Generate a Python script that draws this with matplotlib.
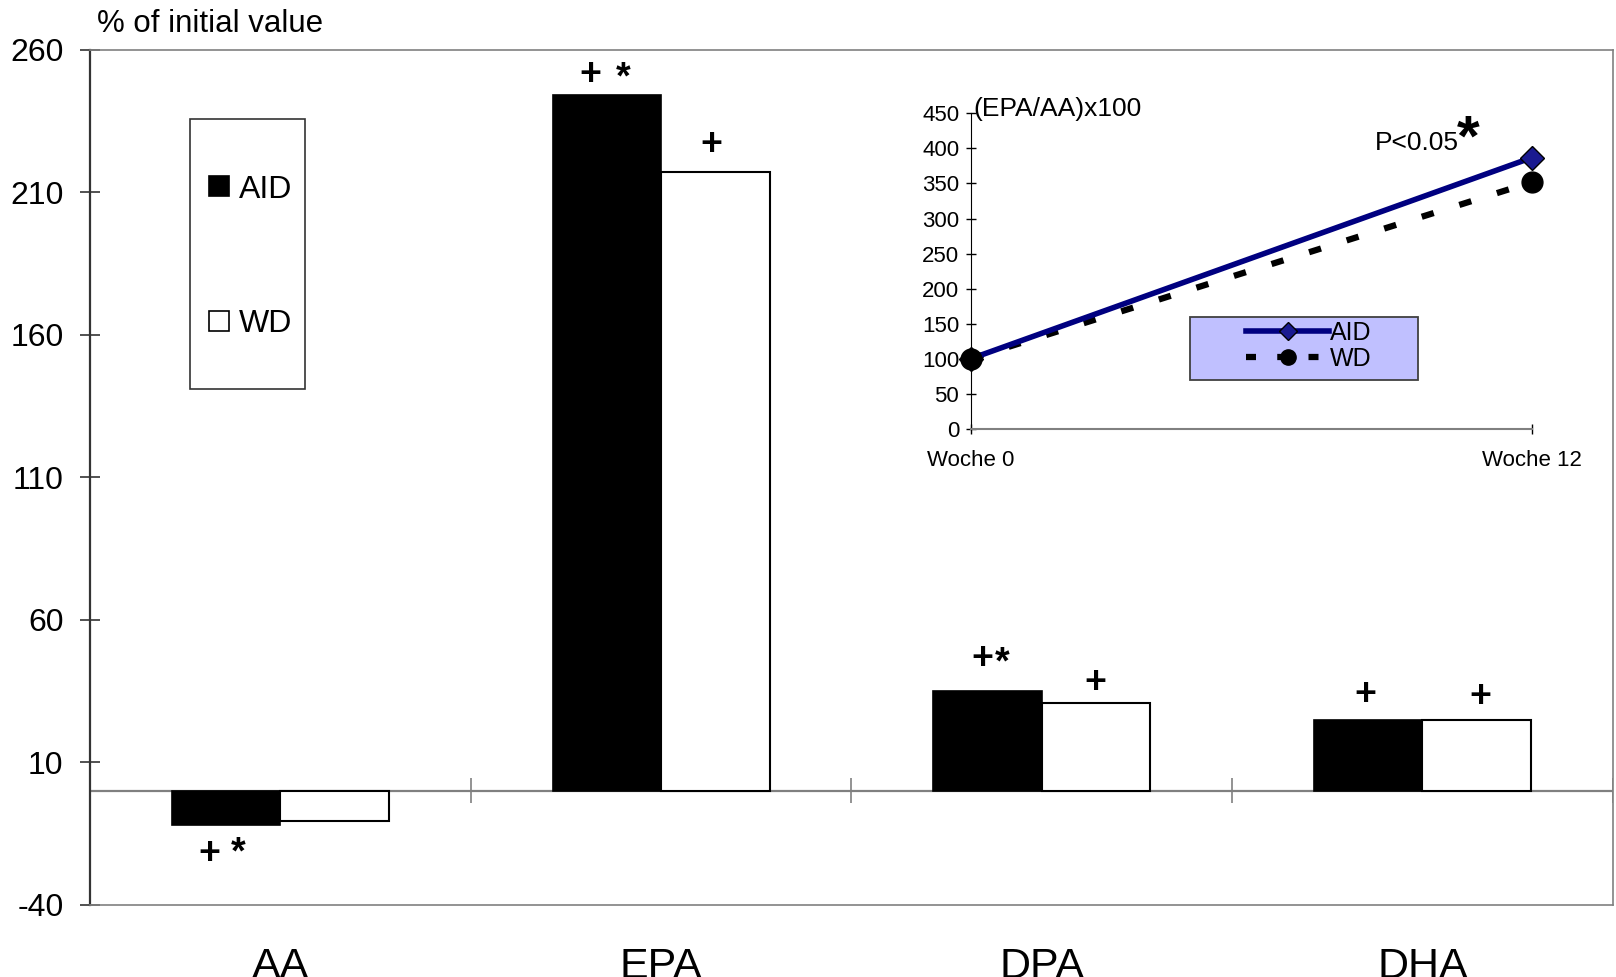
import matplotlib
matplotlib.use("Agg")
import matplotlib.pyplot as plt
from matplotlib.patches import Rectangle
from matplotlib.lines import Line2D
import numpy as np

plt.rcParams['font.family'] = ['Liberation Sans', 'DejaVu Sans']

# main bar chart data (% of initial value)
categories = ['AA', 'EPA', 'DPA', 'DHA']
aid_values = [-12, 244, 35, 25]
wd_values = [-10.5, 217, 31, 25]
y_ticks = [-40, 10, 60, 110, 160, 210, 260]

# significance marks above / below the bars
mark_text = ['+', '*', '+', '*', '+', '+', '*', '+', '+', '+']
mark_x = [-0.187, -0.111, 0.815, 0.901, 1.131, 1.843, 1.897, 2.141, 2.850, 3.153]
mark_y = [-22.0, -22.0, 251.1, 249.9, 226.5, 46.4, 44.6, 37.8, 33.5, 32.9]

# inset: (EPA/AA)x100
inset_labels = ['Woche 0', 'Woche 12']
inset_aid = [100, 387]
inset_wd = [100, 352]
inset_ticks = [0, 50, 100, 150, 200, 250, 300, 350, 400, 450]

grey = '#808080'

fig = plt.figure(figsize=(16.16, 9.77), dpi=100)
ax = fig.add_axes([0.0557, 0.0737, 0.9423, 0.8756])

x = np.arange(len(categories))
w = 0.285
ax.bar(x - w / 2, aid_values, w, color='black', edgecolor='black', linewidth=1.2, zorder=3)
ax.bar(x + w / 2, wd_values, w, color='white', edgecolor='black', linewidth=1.5, zorder=3)

ax.set_xlim(-0.5, 3.5)
ax.set_ylim(-40, 260)
ax.set_yticks(y_ticks)
ax.set_yticklabels([str(v) for v in y_ticks], fontsize=23)
ax.tick_params(axis='y', direction='inout', length=14, width=1.2, pad=12, color='#333333')

ax.set_xticks(x)
ax.set_xticklabels(categories, fontsize=31)
ax.tick_params(axis='x', length=0, pad=30)

for side in ['top', 'right', 'bottom']:
    ax.spines[side].set_color(grey)
    ax.spines[side].set_linewidth(1.2)
ax.spines['left'].set_color('#333333')
ax.spines['left'].set_linewidth(1.6)

# zero line with category separators
ax.axhline(0, color=grey, lw=1.6, zorder=2)
ax.vlines([0.5, 1.5, 2.5, 3.5], -4.4, 4.4, color=grey, lw=1.2, zorder=2)

for t, mx, my in zip(mark_text, mark_x, mark_y):
    ax.text(mx, my, t, fontsize=27, fontweight='bold', ha='center', va='center', zorder=4)

fig.text(0.06, 0.975, '% of initial value', fontsize=22.5, ha='left', va='center')

# legend box of the main chart
ax.add_patch(Rectangle((0.0657, 0.6037), 0.0755, 0.3156, transform=ax.transAxes,
                       facecolor='white', edgecolor='#333333', lw=1.2, zorder=5))
for yy, fc, lab in [(0.836, 'black', 'AID'), (0.679, 'white', 'WD')]:
    ax.add_patch(Rectangle((0.0782, yy - 0.0117 + 0.004), 0.0128, 0.0234, transform=ax.transAxes,
                           facecolor=fc, edgecolor='black', lw=1.2, zorder=6))
    ax.text(0.0975, yy, lab, transform=ax.transAxes, fontsize=23, ha='left', va='center', zorder=6)

# inset line chart
ax2 = fig.add_axes([0.6009, 0.5612, 0.3471, 0.3227])
ax2.patch.set_alpha(0)
xi = np.arange(len(inset_labels))
ax2.plot(xi, inset_wd, color='black', lw=4.5, linestyle=(0, (2, 4.3)), dash_capstyle='butt',
         clip_on=False, zorder=2)
ax2.plot(xi, inset_aid, color='#000080', lw=4, marker='D', ms=12, mfc='#1a1a90', mec='black',
         mew=1, clip_on=False, zorder=3)
ax2.plot(xi, inset_wd, linestyle='none', marker='o', ms=15, color='black', clip_on=False, zorder=4)

ax2.set_xlim(0, 1)
ax2.set_ylim(0, 450)
ax2.set_yticks(inset_ticks)
ax2.set_yticklabels([str(v) for v in inset_ticks], fontsize=16)
ax2.set_xticks(xi)
ax2.set_xticklabels(inset_labels, fontsize=16)
ax2.tick_params(axis='both', direction='inout', length=7, width=1, pad=5)
ax2.tick_params(axis='x', pad=12)
ax2.spines['top'].set_visible(False)
ax2.spines['right'].set_visible(False)
ax2.spines['left'].set_color('black')
ax2.spines['bottom'].set_color(grey)
ax2.spines['bottom'].set_linewidth(1.5)

ax2.text(0.005, 446, '(EPA/AA)x100', fontsize=19, ha='left', va='baseline')
ax2.text(0.72, 408, 'P<0.05', fontsize=19, ha='left', va='center')
ax2.text(0.886, 411, '*', fontsize=42, fontweight='bold', ha='center', va='center')

# inset legend: shaded box plus entries
ax2.add_patch(Rectangle((0.390, 0.1535), 0.406, 0.1995, transform=ax2.transAxes,
                        facecolor='#c0c0ff', edgecolor='#404040', lw=1.3, zorder=1))
handles = [
    Line2D([], [], color='#000080', lw=4, marker='D', ms=9, mfc='#1a1a90', mec='black'),
    Line2D([], [], color='black', lw=4.5, linestyle=(0, (1.6, 3.4)), marker='o', ms=11, mfc='black'),
]
leg = ax2.legend(handles, ['AID', 'WD'], loc='center', bbox_to_anchor=(0.6025, 0.262),
                 fontsize=18, handlelength=3.3, handletextpad=0.05, labelspacing=0.08,
                 frameon=False, borderpad=0, borderaxespad=0)

fig.savefig('out.png', dpi=100)
